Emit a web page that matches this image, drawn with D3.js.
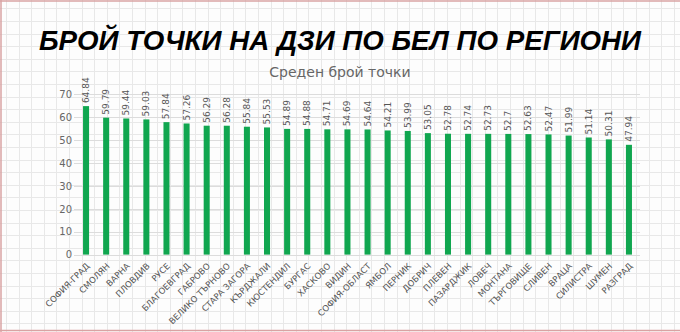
<!DOCTYPE html>
<html>
<head>
<meta charset="utf-8">
<script src="https://cdn.jsdelivr.net/npm/d3@7"></script>
<style>
  body { margin: 0; background: #fdfdfd; }
  svg { display: block; font-family: "DejaVu Sans", sans-serif; }
</style>
</head>
<body>
<div class="chart"></div>
<script>
const regions = ["СОФИЯ-ГРАД", "СМОЛЯН", "ВАРНА", "ПЛОВДИВ", "РУСЕ", "БЛАГОЕВГРАД", "ГАБРОВО",
  "ВЕЛИКО ТЪРНОВО", "СТАРА ЗАГОРА", "КЪРДЖАЛИ", "КЮСТЕНДИЛ", "БУРГАС", "ХАСКОВО", "ВИДИН",
  "СОФИЯ-ОБЛАСТ", "ЯМБОЛ", "ПЕРНИК", "ДОБРИЧ", "ПЛЕВЕН", "ПАЗАРДЖИК", "ЛОВЕЧ", "МОНТАНА",
  "ТЪРГОВИЩЕ", "СЛИВЕН", "ВРАЦА", "СИЛИСТРА", "ШУМЕН", "РАЗГРАД"];
const points = [64.84, 59.79, 59.44, 59.03, 57.84, 57.26, 56.29, 56.28, 55.84, 55.53, 54.89,
  54.88, 54.71, 54.69, 54.64, 54.21, 53.99, 53.05, 52.78, 52.74, 52.73, 52.7, 52.63, 52.47,
  51.99, 51.14, 50.31, 47.94];
const yTicks = [0, 10, 20, 30, 40, 50, 60, 70];

const W = 680, H = 332;
const data = regions.map((r, i) => ({ name: r, value: points[i] }));

const svg = d3.select(".chart").append("svg").attr("width", W).attr("height", H);

// squared paper background
const cell = 12.6;
svg.append("rect").attr("width", W).attr("height", H).attr("fill", "#fdfdfd");
const paper = svg.append("g").attr("stroke", "#e8e8e8").attr("stroke-width", 1);
paper.selectAll(".vl").data(d3.range(6, W, cell)).enter().append("line")
  .attr("x1", d => Math.round(d) + 0.5).attr("x2", d => Math.round(d) + 0.5)
  .attr("y1", 0).attr("y2", H);
paper.selectAll(".hl").data(d3.range(8.3, H, cell)).enter().append("line")
  .attr("y1", d => Math.round(d) + 0.5).attr("y2", d => Math.round(d) + 0.5)
  .attr("x1", 0).attr("x2", W);

// reddish frame
const frame = svg.append("g").attr("stroke", "#d9a3a3").attr("stroke-width", 1.5);
frame.append("line").attr("x1", 1).attr("x2", 1).attr("y1", 0).attr("y2", H);
frame.append("line").attr("x1", 0).attr("x2", W).attr("y1", 1).attr("y2", 1);
frame.append("line").attr("x1", 0).attr("x2", W).attr("y1", H - 1.5).attr("y2", H - 1.5);

// title
svg.append("text")
  .attr("x", 340).attr("y", 50)
  .attr("text-anchor", "middle")
  .style("font-family", "'Liberation Sans', Arial, sans-serif")
  .style("font-size", "27.7px").style("font-weight", "bold").style("font-style", "italic")
  .attr("fill", "#000")
  .text("БРОЙ ТОЧКИ НА ДЗИ ПО БЕЛ ПО РЕГИОНИ");

svg.append("text")
  .attr("x", 340).attr("y", 77)
  .attr("text-anchor", "middle")
  .style("font-size", "14px").attr("fill", "#666")
  .text("Среден брой точки");

const x = d3.scaleBand().domain(regions).range([76, 639]).paddingInner(0.7).paddingOuter(0.35);
const y = d3.scaleLinear().domain([0, 70]).range([254.6, 94.3]);

// horizontal gridlines
svg.append("g").selectAll("line").data(yTicks).enter().append("line")
  .attr("x1", 74).attr("x2", 640)
  .attr("y1", d => Math.round(y(d)) + 0.5).attr("y2", d => Math.round(y(d)) + 0.5)
  .attr("stroke", "#dcdcdc");

const yAxis = svg.append("g").attr("transform", "translate(74,0)")
  .call(d3.axisLeft(y).tickValues(yTicks).tickSize(0).tickPadding(2));
yAxis.select(".domain").remove();
yAxis.selectAll("text").style("font-size", "10px").attr("fill", "#666")
  .style("font-family", "DejaVu Sans, sans-serif");

svg.selectAll(".bar").data(data).enter().append("rect")
  .attr("class", "bar")
  .attr("x", d => x(d.name))
  .attr("width", x.bandwidth())
  .attr("y", d => y(d.value))
  .attr("height", d => y(0) - y(d.value))
  .attr("fill", "#10a64f");

svg.selectAll(".val").data(data).enter().append("text")
  .attr("class", "val")
  .attr("transform", d => "translate(" + (x(d.name) + x.bandwidth() / 2 + 3) + "," + (y(d.value) - 3) + ") rotate(-90)")
  .style("font-size", "9px").attr("fill", "#555")
  .text(d => d.value);

const xAxis = svg.append("g").attr("transform", "translate(0," + y(0) + ")")
  .call(d3.axisBottom(x).tickSize(0).tickPadding(0));
xAxis.select(".domain").remove();
xAxis.selectAll("text")
  .style("font-size", "8.5px").attr("fill", "#555")
  .style("font-family", "DejaVu Sans, sans-serif")
  .attr("text-anchor", "end")
  .attr("y", 0)
  .attr("dy", "0")
  .attr("transform", "translate(4,12) rotate(-45)");
</script>
</body>
</html>
